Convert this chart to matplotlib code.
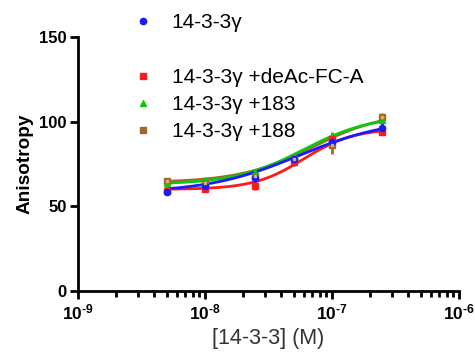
import matplotlib
matplotlib.use("Agg")
import matplotlib.pyplot as plt
import matplotlib.ticker as mticker
from matplotlib.lines import Line2D
import numpy as np

plt.rcParams["font.family"] = ["Liberation Sans", "DejaVu Sans"]
plt.rcParams["mathtext.fontset"] = "custom"
plt.rcParams["mathtext.rm"] = "Liberation Sans"
plt.rcParams["mathtext.bf"] = "Liberation Sans:bold"

# concentrations (M)
conc = [5e-9, 1e-8, 2.5e-8, 5e-8, 1e-7, 2.5e-7]
x_ticks = [1e-9, 1e-8, 1e-7, 1e-6]

labels = ["14-3-3γ", "14-3-3γ +deAc-FC-A", "14-3-3γ +183", "14-3-3γ +188"]
colors = ["#1a1aff", "#ff1a1a", "#12c412", "#9c6a2c"]
markers = ["o", "s", "^", "s"]

# anisotropy values
aniso_blue  = [58.5, 62, 67, 78, 88, 96]
aniso_red   = [59, 60, 62, 76, 90, 94]
aniso_green = [64, 65, 69, 79, 91, 101]
aniso_brown = [65, 64, 68, 78, 86, 103]
err_blue  = [1.5, 1.5, 2.5, 2, 3, 3]
err_red   = [1.5, 1.5, 2.5, 2, 2.5, 2]
err_green = [2, 2.5, 3, 2, 3, 2]
err_brown = [2, 1.5, 2, 2, 5, 2]

# sigmoid fit parameters (bottom, top, EC50, hill)
fit_blue  = (58, 102, 5.5e-8, 1.2)
fit_red   = (60, 96, 6.0e-8, 2.2)
fit_green = (63, 104, 6.0e-8, 1.6)
fit_brown = (64, 106, 7.0e-8, 1.5)

series = [
    (aniso_brown, err_brown, fit_brown, 3),
    (aniso_green, err_green, fit_green, 2),
    (aniso_red, err_red, fit_red, 1),
    (aniso_blue, err_blue, fit_blue, 0),
]

fig = plt.figure(figsize=(4.75, 3.52), dpi=100)
ax = fig.add_axes([0.164, 0.173, 0.802, 0.722])

xx = np.logspace(np.log10(conc[0]), np.log10(conc[-1]), 200)
for vals, errs, fit, i in series:
    bot, top, ec50, hill = fit
    yy = bot + (top - bot) / (1 + (ec50 / xx) ** hill)
    ax.plot(xx, yy, color=colors[i], lw=2, zorder=2)
    ax.errorbar(conc, vals, yerr=errs, fmt=markers[i], color=colors[i],
                ms=4.5, elinewidth=2, capsize=0, zorder=3)
    if i == 3:
        ax.plot(conc, vals, "s", color="#d9b070", ms=1.5, zorder=4)

ax.set_xscale("log")
ax.set_xlim(1e-9, 1e-6)
ax.set_ylim(0, 150)
ax.set_yticks([0, 50, 100, 150])
ax.set_xticks(x_ticks)
ax.xaxis.set_minor_locator(mticker.LogLocator(base=10, subs=np.arange(2, 10), numticks=10))
ax.xaxis.set_minor_formatter(mticker.NullFormatter())
ax.xaxis.set_major_formatter(mticker.FuncFormatter(
    lambda v, p: "$\\mathbf{10^{\u2010%d}}$" % abs(round(np.log10(v)))))

for s in ["top", "right"]:
    ax.spines[s].set_visible(False)
for s in ["left", "bottom"]:
    ax.spines[s].set_linewidth(2)
ax.tick_params(which="major", length=6, width=2, labelsize=12, pad=2)
ax.tick_params(axis="x", which="major", labelsize=12.5, pad=2)
ax.tick_params(which="minor", length=4, width=2)
for t in ax.get_yticklabels():
    t.set_fontweight("bold")

ax.set_ylabel("Anisotropy", fontsize=13.7, fontweight="bold", labelpad=4)
ax.set_xlabel("[14-3-3] (M)", fontsize=15.5, color="#333333", labelpad=4)

handles = [Line2D([], [], ls="", marker=markers[0], color=colors[0], ms=4.5),
           Line2D([], [], ls="", marker=""),
           Line2D([], [], ls="", marker=markers[1], color=colors[1], ms=4.5),
           Line2D([], [], ls="", marker=markers[2], color=colors[2], ms=4.5),
           Line2D([], [], ls="", marker=markers[3], color=colors[3], ms=4.5)]
leg_labels = [labels[0], "", labels[1], labels[2], labels[3]]
fig.legend(handles, leg_labels, loc="upper left", bbox_to_anchor=(0.245, 1.01),
           frameon=False, fontsize=15, handlelength=1.0, handletextpad=0.85,
           labelspacing=0.4, borderpad=0.3)

fig.savefig("out.png", dpi=100)
